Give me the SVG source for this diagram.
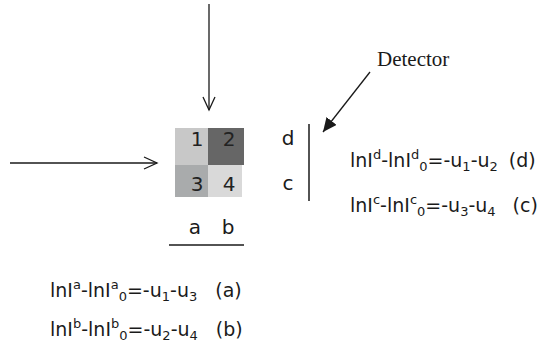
<svg xmlns="http://www.w3.org/2000/svg" width="541" height="349" viewBox="0 0 541 349">
<style>
.ln{stroke:#1a1a1a;stroke-width:1.3;fill:none}
.eq{font-family:"DejaVu Sans","Liberation Sans",sans-serif;font-size:19px;fill:#1a1a1a}
.lbl{font-family:"DejaVu Sans","Liberation Sans",sans-serif;font-size:20px;fill:#1a1a1a}
.num{font-family:"DejaVu Sans","Liberation Sans",sans-serif;font-size:20px;fill:#222;text-anchor:middle}
.sm{font-size:13px}
</style>
<defs>
<marker id="open" markerWidth="16" markerHeight="14" refX="14" refY="7" orient="auto" markerUnits="userSpaceOnUse">
<path d="M1,1 L14,7 L1,13" fill="none" stroke="#1a1a1a" stroke-width="1.3"/>
</marker>
<marker id="solid" markerWidth="15" markerHeight="13" refX="14" refY="6.5" orient="auto" markerUnits="userSpaceOnUse">
<path d="M0,0 L14,6.5 L0,13 Z" fill="#1a1a1a"/>
</marker>
</defs>
<g id="connectors">
<line class="ln" x1="209" y1="4" x2="209" y2="110" marker-end="url(#open)"/>
<line class="ln" x1="10" y1="163" x2="157" y2="163" marker-end="url(#open)"/>
<line class="ln" x1="370" y1="72" x2="323" y2="132" marker-end="url(#solid)"/>
</g>
<g id="sample">
<rect x="175" y="128" width="33" height="37" fill="#c8c8c8"/>
<rect x="208" y="128" width="36" height="37" fill="#666666"/>
<rect x="175" y="165" width="33" height="32" fill="#a9abac"/>
<rect x="208" y="165" width="34" height="32" fill="#d9d9d9"/>
<text class="num" x="197" y="146">1</text>
<text class="num" x="229" y="146">2</text>
<text class="num" x="197" y="191">3</text>
<text class="num" x="229" y="191">4</text>
</g>
<g id="axis-ab">
<text class="lbl" x="195" y="234" text-anchor="middle">a</text>
<text class="lbl" x="228" y="234" text-anchor="middle">b</text>
<line x1="169" y1="245" x2="244" y2="245" stroke="#1a1a1a" stroke-width="1.5"/>
</g>
<g id="detector">
<line x1="309" y1="124" x2="309" y2="201" stroke="#1a1a1a" stroke-width="1.5"/>
<text class="lbl" x="288" y="145" text-anchor="middle">d</text>
<text class="lbl" x="288" y="190" text-anchor="middle">c</text>
<text x="377" y="66" font-family="Liberation Serif,serif" font-size="21" fill="#1a1a1a">Detector</text>
</g>
<g id="eq-d">
<text class="eq" x="350" y="167">lnI<tspan class="sm" dy="-8">d</tspan><tspan dy="8">-lnI</tspan><tspan class="sm" dy="-8">d</tspan><tspan class="sm" dy="12">0</tspan><tspan dy="-4">=-u</tspan><tspan class="sm" dy="4">1</tspan><tspan dy="-4">-u</tspan><tspan class="sm" dy="4">2</tspan><tspan dy="-4" dx="11">(d)</tspan></text>
</g>
<g id="eq-c">
<text class="eq" x="350" y="212">lnI<tspan class="sm" dy="-8">c</tspan><tspan dy="8">-lnI</tspan><tspan class="sm" dy="-8">c</tspan><tspan class="sm" dy="12">0</tspan><tspan dy="-4">=-u</tspan><tspan class="sm" dy="4">3</tspan><tspan dy="-4">-u</tspan><tspan class="sm" dy="4">4</tspan><tspan dy="-4" dx="17">(c)</tspan></text>
</g>
<g id="eq-a">
<text class="eq" x="50" y="297">lnI<tspan class="sm" dy="-8">a</tspan><tspan dy="8">-lnI</tspan><tspan class="sm" dy="-8">a</tspan><tspan class="sm" dy="12">0</tspan><tspan dy="-4">=-u</tspan><tspan class="sm" dy="4">1</tspan><tspan dy="-4">-u</tspan><tspan class="sm" dy="4">3</tspan><tspan dy="-4" dx="18">(a)</tspan></text>
</g>
<g id="eq-b">
<text class="eq" x="50" y="336">lnI<tspan class="sm" dy="-8">b</tspan><tspan dy="8">-lnI</tspan><tspan class="sm" dy="-8">b</tspan><tspan class="sm" dy="12">0</tspan><tspan dy="-4">=-u</tspan><tspan class="sm" dy="4">2</tspan><tspan dy="-4">-u</tspan><tspan class="sm" dy="4">4</tspan><tspan dy="-4" dx="18">(b)</tspan></text>
</g>
</svg>
